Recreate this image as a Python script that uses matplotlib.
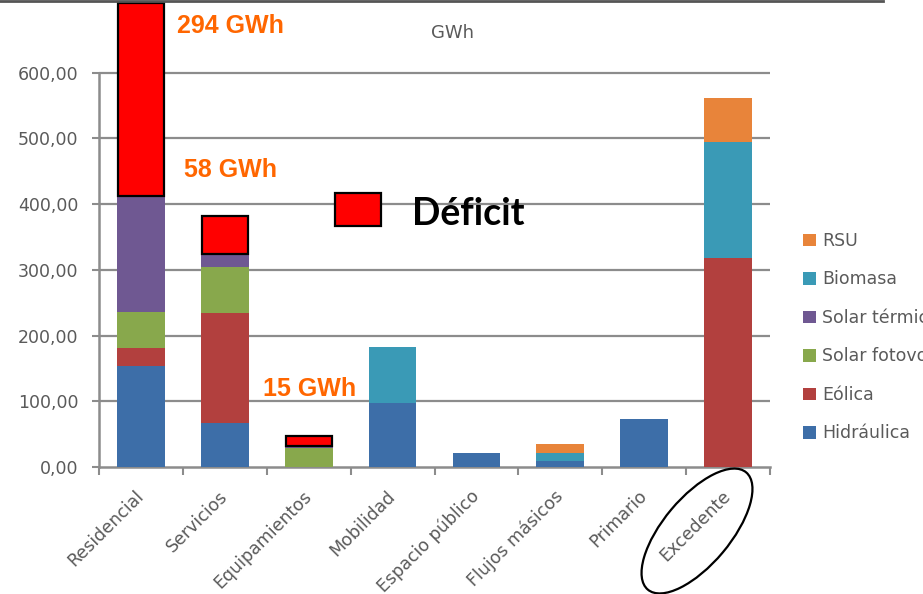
import numpy as np
import matplotlib.pyplot as plt
from matplotlib.patches import Patch, Rectangle, Ellipse

# Datos de generación (GWh) por sector
sectores = ['Residencial', 'Servicios', 'Equipamientos', 'Mobilidad',
            'Espacio público', 'Flujos másicos', 'Primario', 'Excedente']

hidraulica = [153, 67, 0, 98, 21, 9, 73, 0]
eolica = [28, 167, 0, 0, 0, 0, 0, 318]
solar_fotov = [55, 71, 29, 0, 0, 0, 0, 0]
solar_termica = [176, 19, 3, 0, 0, 0, 0, 0]
biomasa = [0, 0, 0, 85, 0, 13, 0, 177]
rsu = [0, 0, 0, 0, 0, 13, 0, 67]

deficit = [294, 58, 15, 0, 0, 0, 0, 0]

series = [
    ('Hidráulica', hidraulica, '#3D6EA8'),
    ('Eólica', eolica, '#B2403E'),
    ('Solar fotovoltaica', solar_fotov, '#88A84C'),
    ('Solar térmica', solar_termica, '#6F5892'),
    ('Biomasa', biomasa, '#3A9AB6'),
    ('RSU', rsu, '#E8843A'),
]

gris = '#5A5A5A'
naranja = '#FF6600'

fig = plt.figure(figsize=(9.23, 5.94), dpi=100)
ax = fig.add_axes([99 / 923, 127 / 594, 671 / 923, 466.5 / 594])

x = np.arange(len(sectores))
ancho = 0.57
base = np.zeros(len(sectores))
for nombre, vals, color in series:
    vals = np.array(vals, dtype=float)
    ax.bar(x, vals, ancho, bottom=base, color=color, label=nombre,
           zorder=3, clip_on=False)
    base += vals

# cajas de déficit encima de cada barra
d = np.array(deficit, dtype=float)
mask = d > 0
ax.bar(x[mask], d[mask], ancho * 0.97, bottom=base[mask], color='#FF0000',
       edgecolor='black', linewidth=1.6, zorder=4, clip_on=False)

ax.set_xlim(-0.5, len(sectores) - 0.5)
ax.set_ylim(0, 710)

yt = np.arange(0, 700, 100)
ax.set_yticks(yt)
ax.set_yticklabels([f'{v:.2f}'.replace('.', ',') for v in yt])
for v in yt[1:]:
    ax.axhline(v, color='#8C8C8C', lw=1.6, zorder=1)

ax.set_xticks(np.arange(-0.5, len(sectores)), minor=False)
ax.set_xticklabels([])
ax.set_xticks(x, minor=True)
ax.set_xticklabels(sectores, minor=True, rotation=45, ha='right',
                   va='center', rotation_mode='anchor')

for s in ['top', 'right']:
    ax.spines[s].set_visible(False)
ax.spines['left'].set_bounds(0, 600)
for s in ['left', 'bottom']:
    ax.spines[s].set_color('#8C8C8C')
    ax.spines[s].set_linewidth(1.8)

ax.tick_params(axis='y', direction='out', length=5, width=1.5,
               color='#8C8C8C', pad=10, labelsize=12.5, labelcolor=gris)
ax.tick_params(axis='x', which='major', direction='out', length=6,
               width=1.5, color='#8C8C8C')
ax.tick_params(axis='x', which='minor', length=0, pad=19,
               labelsize=12.5, labelcolor=gris)
ax.set_facecolor('none')

handles = [Patch(facecolor=c, label=n) for n, _, c in reversed(series)]
fig.legend(handles=handles, loc='upper left',
           bbox_to_anchor=(803 / 923, 1 - 232 / 594), frameon=False,
           fontsize=12.5, labelcolor=gris, handlelength=0.75,
           handleheight=0.75, handletextpad=0.35, labelspacing=1.18,
           borderpad=0, borderaxespad=0)

# capa de anotaciones en coordenadas de píxel
ov = fig.add_axes([0, 0, 1, 1])
ov.set_xlim(0, 923)
ov.set_ylim(594, 0)
ov.axis('off')
ov.patch.set_alpha(0)

ov.plot([0, 883], [1, 1], color='#555555', lw=2)
ov.text(453, 33, 'GWh', ha='center', va='center', color=gris, fontsize=13)

ov.text(177, 26, f'{deficit[0]} GWh', ha='left', va='center', color=naranja,
        fontsize=18, fontweight='bold', family='Liberation Sans')
ov.text(184, 170, f'{deficit[1]} GWh', ha='left', va='center', color=naranja,
        fontsize=18, fontweight='bold', family='Liberation Sans')
ov.text(263, 389, f'{deficit[2]} GWh', ha='left', va='center', color=naranja,
        fontsize=18, fontweight='bold', family='Liberation Sans')

ov.add_patch(Rectangle((335, 193), 46, 33, facecolor='#FF0000',
                       edgecolor='black', lw=1.6))
ov.text(412, 214, 'Déficit', ha='left', va='center', color='black',
        fontsize=27, fontweight='bold', family='Lato')

ov.add_patch(Ellipse((697, 531), 153, 67, angle=-50, fill=False,
                     edgecolor='black', lw=1.6))

fig.savefig('out.png', dpi=100)
